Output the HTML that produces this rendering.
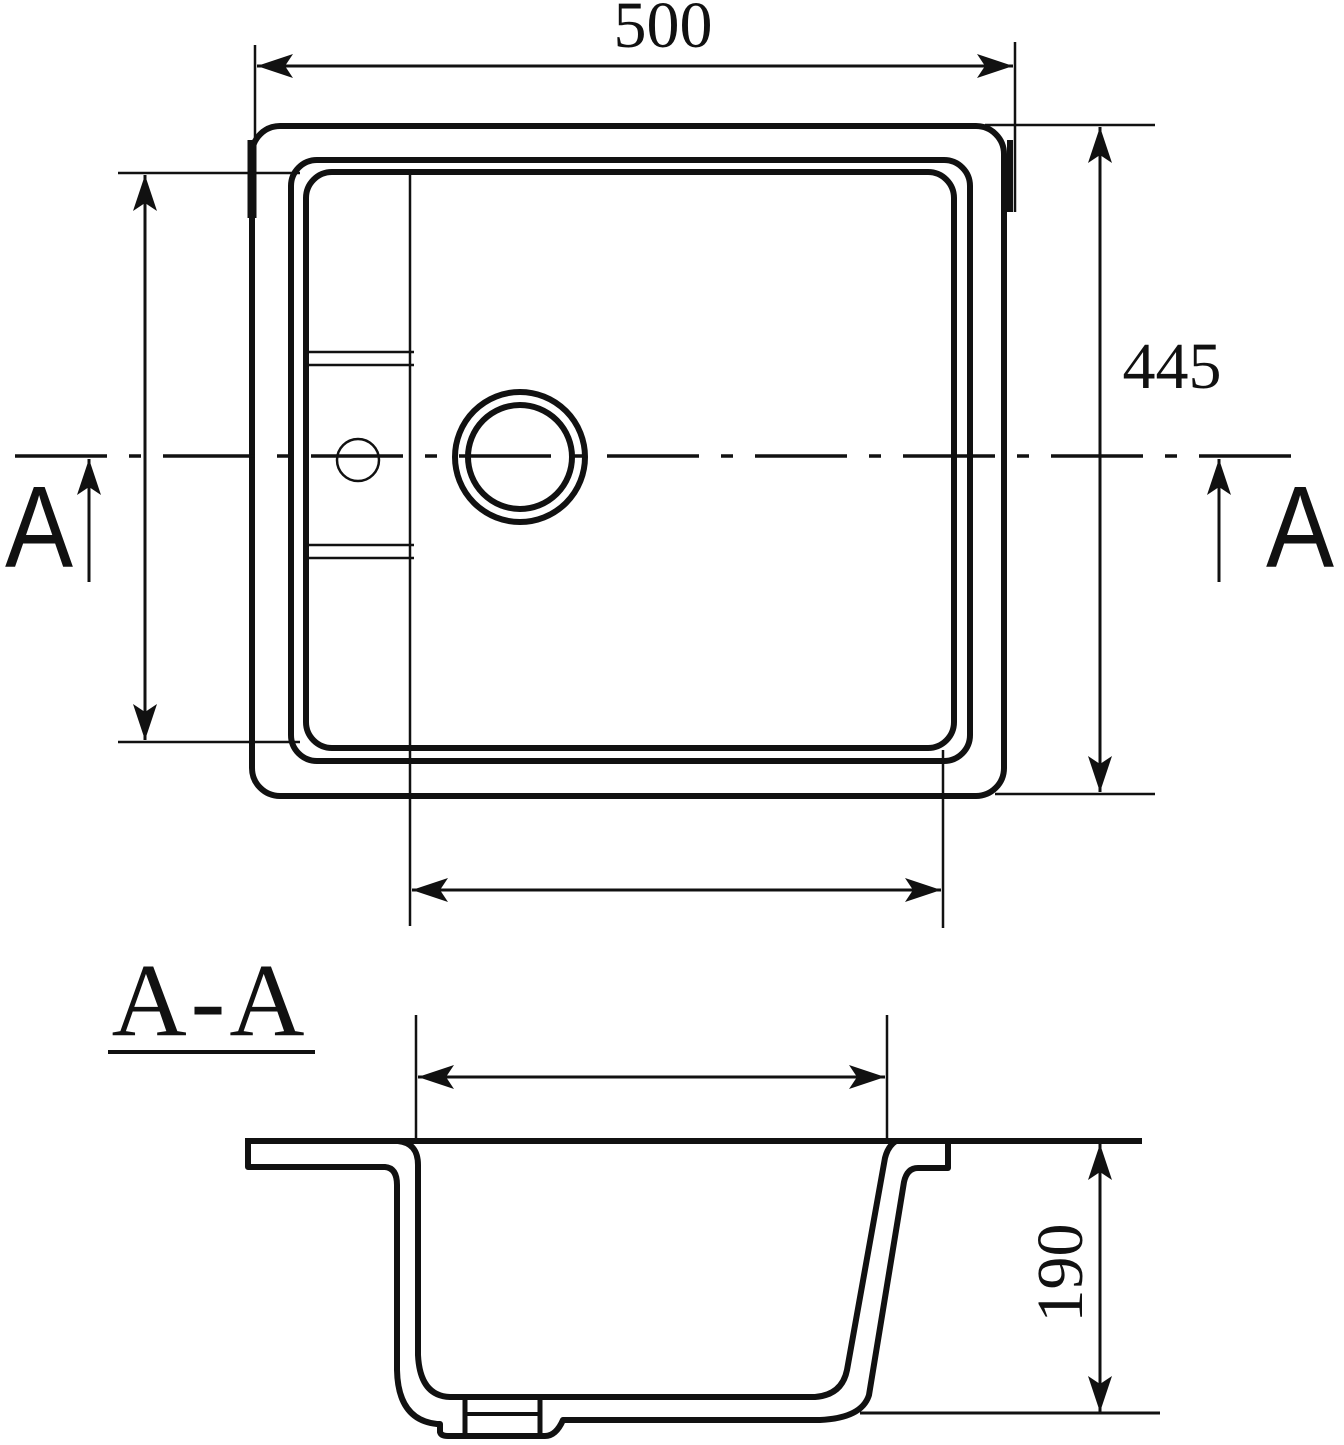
<!DOCTYPE html>
<html><head><meta charset="utf-8"><style>html,body{margin:0;padding:0;background:#fff}svg{display:block}</style></head>
<body>
<svg width="1344" height="1445" viewBox="0 0 1344 1445" xmlns="http://www.w3.org/2000/svg">
<defs>
<marker id="ah" viewBox="0 0 36 24" refX="36" refY="12" markerWidth="36" markerHeight="24" markerUnits="userSpaceOnUse" orient="auto-start-reverse">
<path d="M0,0 L36,12 L0,24 L8,12 Z" fill="#111"/>
</marker>
</defs>
<g fill="none" stroke="#111" stroke-linejoin="round">
<rect x="252" y="126" width="752" height="670" rx="28" stroke-width="6"/>
<line x1="252" y1="140" x2="252" y2="218" stroke-width="9"/>
<line x1="1010" y1="140" x2="1010" y2="212" stroke-width="6"/>
<rect x="291" y="160" width="679" height="601" rx="26" stroke-width="6"/>
<rect x="306" y="172" width="648" height="576" rx="26" stroke-width="6"/>
<line x1="410" y1="172" x2="410" y2="926" stroke-width="2.5"/>
<line x1="943" y1="750" x2="943" y2="928" stroke-width="2.5"/>
<line x1="306" y1="352" x2="414" y2="352" stroke-width="2.5"/>
<line x1="306" y1="365" x2="414" y2="365" stroke-width="2.5"/>
<line x1="306" y1="545" x2="414" y2="545" stroke-width="2.5"/>
<line x1="306" y1="558" x2="414" y2="558" stroke-width="2.5"/>
<circle cx="358" cy="460" r="21" stroke-width="2.5"/>
<circle cx="520" cy="457" r="65" stroke-width="6"/>
<circle cx="520" cy="457" r="52" stroke-width="6"/>
<line x1="15" y1="456" x2="1295" y2="456" stroke-width="3.5" stroke-dasharray="92 22 12 22"/>
<line x1="255" y1="45" x2="255" y2="218" stroke-width="2.5"/>
<line x1="1015" y1="42" x2="1015" y2="212" stroke-width="2.5"/>
<line x1="257" y1="66" x2="1013" y2="66" stroke-width="3" marker-start="url(#ah)" marker-end="url(#ah)"/>
<line x1="985" y1="125" x2="1155" y2="125" stroke-width="2.5"/>
<line x1="995" y1="794" x2="1155" y2="794" stroke-width="2.5"/>
<line x1="1100" y1="127" x2="1100" y2="792" stroke-width="3" marker-start="url(#ah)" marker-end="url(#ah)"/>
<line x1="118" y1="173" x2="300" y2="173" stroke-width="2.5"/>
<line x1="118" y1="742" x2="300" y2="742" stroke-width="2.5"/>
<line x1="145" y1="175" x2="145" y2="740" stroke-width="3" marker-start="url(#ah)" marker-end="url(#ah)"/>
<line x1="412" y1="890" x2="941" y2="890" stroke-width="3" marker-start="url(#ah)" marker-end="url(#ah)"/>
<line x1="89" y1="582" x2="89" y2="459" stroke-width="3" marker-end="url(#ah)"/>
<line x1="1219" y1="582" x2="1219" y2="459" stroke-width="3" marker-end="url(#ah)"/>
<line x1="108" y1="1052" x2="315" y2="1052" stroke-width="4"/>
<line x1="416" y1="1015" x2="416" y2="1142" stroke-width="2.5"/>
<line x1="887" y1="1015" x2="887" y2="1142" stroke-width="2.5"/>
<line x1="418" y1="1077" x2="885" y2="1077" stroke-width="3" marker-start="url(#ah)" marker-end="url(#ah)"/>
<line x1="1100" y1="1144" x2="1100" y2="1412" stroke-width="3" marker-start="url(#ah)" marker-end="url(#ah)"/>
<line x1="860" y1="1413" x2="1160" y2="1413" stroke-width="3"/>
<line x1="245" y1="1141" x2="1142" y2="1141" stroke-width="6"/>
<path d="M248,1141 L248,1167 L385,1167 Q397,1168 397,1185 L397,1370 Q398,1420 437,1424 L440,1424 L440,1432 Q441,1436 448,1436 L545,1436 Q556,1436 563,1420 L820,1420 Q862,1418 869,1395 L904,1182 Q907,1168 918,1168 L948,1168 L948,1141" stroke-width="6"/>
<path d="M398,1141 Q418,1143 418,1165 L418,1355 Q420,1396 450,1397 L815,1397 Q842,1395 847,1370 L885,1158 Q888,1146 896,1141" stroke-width="6"/>
<line x1="465" y1="1397" x2="465" y2="1436" stroke-width="5"/>
<line x1="540" y1="1397" x2="540" y2="1436" stroke-width="5"/>
<line x1="465" y1="1414" x2="540" y2="1414" stroke-width="4"/>
</g>
<g fill="#111">
<text x="663" y="47" font-family="Liberation Serif, serif" font-size="66" text-anchor="middle">500</text>
<text x="1172" y="388" font-family="Liberation Serif, serif" font-size="66" text-anchor="middle">445</text>
<text transform="translate(39,567) scale(0.88,1)" font-family="Liberation Sans, sans-serif" font-size="116" text-anchor="middle">A</text>
<text transform="translate(1300,567) scale(0.88,1)" font-family="Liberation Sans, sans-serif" font-size="116" text-anchor="middle">A</text>
<text x="210" y="1035" font-family="Liberation Serif, serif" font-size="104" text-anchor="middle" letter-spacing="4">A-A</text>
<text x="0" y="0" transform="translate(1082,1273) rotate(-90)" font-family="Liberation Serif, serif" font-size="66" text-anchor="middle">190</text>
</g>
</svg>
</body></html>
